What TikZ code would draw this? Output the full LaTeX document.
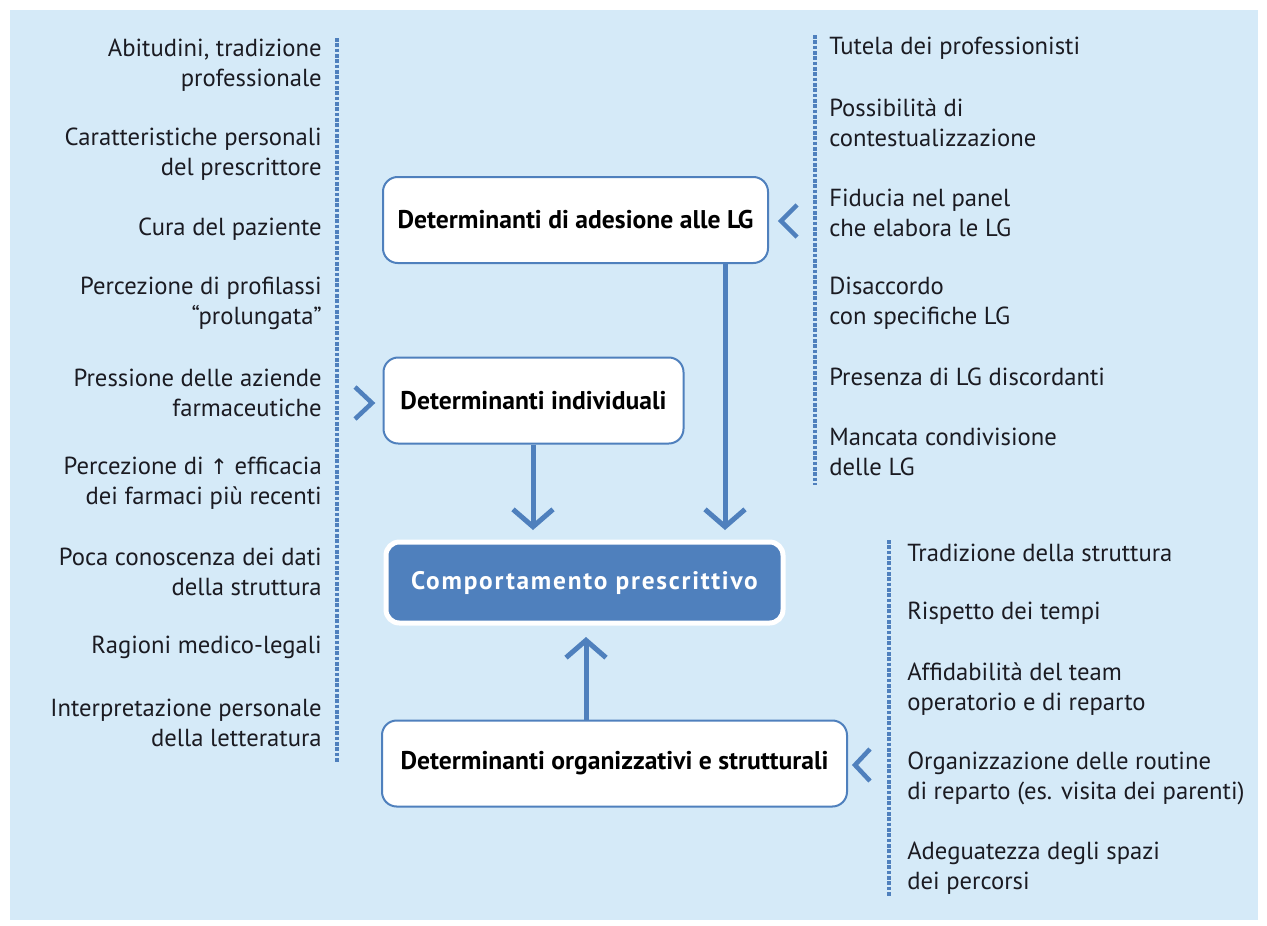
\documentclass[tikz,border=0pt]{standalone}
\usepackage{fontspec}
\setmainfont{PT Sans}
\newfontfamily\dejavu{DejaVu Sans}
\usetikzlibrary{arrows.meta}
\definecolor{bgblue}{HTML}{D5EAF8}
\definecolor{mblue}{HTML}{4F80BD}
\definecolor{txt}{HTML}{1B1B22}
\tikzset{
  item/.style={font=\fontsize{18.5}{22.5}\selectfont, text=txt, inner sep=0pt},
  litem/.style={item, anchor=east, align=right},
  ritem/.style={item, anchor=west, align=left},
  detbox/.style={draw=mblue, line width=1.5pt, fill=white, rounded corners=11pt, font=\bfseries\fontsize{19.2}{22}\selectfont, text=black, inner sep=0pt},
  mainbox/.style={draw=white, line width=3.75pt, fill=mblue, rounded corners=10pt, font=\bfseries\fontsize{19}{22}\selectfont\addfontfeature{LetterSpace=7}, text=white, inner sep=0pt},
  dotline/.style={draw=mblue, line width=3.4pt, dash pattern=on 2.8pt off 1.2pt},
  chev/.style={draw=mblue, line width=3.4pt, line cap=butt},
  flow/.style={draw=mblue, line width=3.75pt, -{Straight Barb[length=13pt,width=30pt]}},
}
\begin{document}
\begin{tikzpicture}[x=0.75pt,y=-0.75pt]
\useasboundingbox (0,0) rectangle (1267,925);
\fill[white] (0,0) rectangle (1267,925);
\fill[bgblue] (10,10) rectangle (1258,920);

% dotted lines
\coordinate (dl1) at (337,38); \coordinate (dl2) at (337,762);
\coordinate (dr1) at (815,35); \coordinate (dr2) at (815,485);
\coordinate (db1) at (889,540); \coordinate (db2) at (889,897);
\draw[dotline] (dl1) -- (dl2);
\draw[dotline] (dr1) -- (dr2);
\draw[dotline] (db1) -- (db2);

% left items
\node[litem] (l1) at (322,65) {Abitudini, tradizione\\professionale};
\node[litem] (l2) at (322,154) {Caratteristiche personali\\del prescrittore};
\node[litem] (l3) at (322,229) {Cura del paziente};
\node[litem] (l4) at (322,303) {Percezione di profilassi\\“prolungata”};
\node[litem] (l5) at (322,393) {Pressione delle aziende\\farmaceutiche};
\node[litem] (l6) at (322,483) {Percezione di {\dejavu\fontsize{16}{22.5}\selectfont ↑} efficacia\\dei farmaci più recenti};
\node[litem] (l7) at (322,572) {Poca conoscenza dei dati\\della struttura};
\node[litem] (l8) at (322,647) {Ragioni medico-legali};
\node[litem] (l9) at (322,723) {Interpretazione personale\\della letteratura};

% right top items
\node[ritem] (r1) at (829,48) {Tutela dei professionisti};
\node[ritem] (r2) at (829,123) {Possibilità di\\contestualizzazione};
\node[ritem] (r3) at (829,213) {Fiducia nel panel\\che elabora le LG};
\node[ritem] (r4) at (829,303) {Disaccordo\\con specifiche LG};
\node[ritem] (r5) at (829,377) {Presenza di LG discordanti};
\node[ritem] (r6) at (829,452) {Mancata condivisione\\delle LG};

% right bottom items
\node[ritem] (b1) at (907,553) {Tradizione della struttura};
\node[ritem] (b2) at (907,613) {Rispetto dei tempi};
\node[ritem] (b3) at (907,689) {Affidabilità del team\\operatorio e di reparto};
\node[ritem] (b4) at (907,778) {Organizzazione delle routine\\di reparto (es. visita dei parenti)};
\node[ritem] (b5) at (907,868) {Adeguatezza degli spazi\\dei percorsi};

% boxes
\node[detbox, minimum width=288.75pt, minimum height=64.5pt] (ad) at (575.5,220) {Determinanti di adesione alle LG};
\node[detbox, minimum width=225pt, minimum height=64.5pt] (ind) at (533.5,400.5) {Determinanti individuali};
\node[mainbox, minimum width=297.75pt, minimum height=60.75pt] (cp) at (584.5,582.5) {Comportamento prescrittivo};
\node[detbox, minimum width=348.75pt, minimum height=64.5pt] (org) at (614.5,763.5) {Determinanti organizzativi e strutturali};

% chevrons
\draw[chev] (797,205) -- (781,221) -- (797,237);
\draw[chev] (355,387) -- (372,403) -- (355,419);
\draw[chev] (870,749) -- (855,765) -- (870,781);

% connectors
\coordinate (ae) at (725,530);
\coordinate (ie) at (533,530);
\coordinate (oe) at (586,637);
\draw[flow] (ad.south -| ae) -- (ae);
\draw[flow] (ind.south -| ie) -- (ie);
\draw[flow] (org.north -| oe) -- (oe);
\end{tikzpicture}
\end{document}
